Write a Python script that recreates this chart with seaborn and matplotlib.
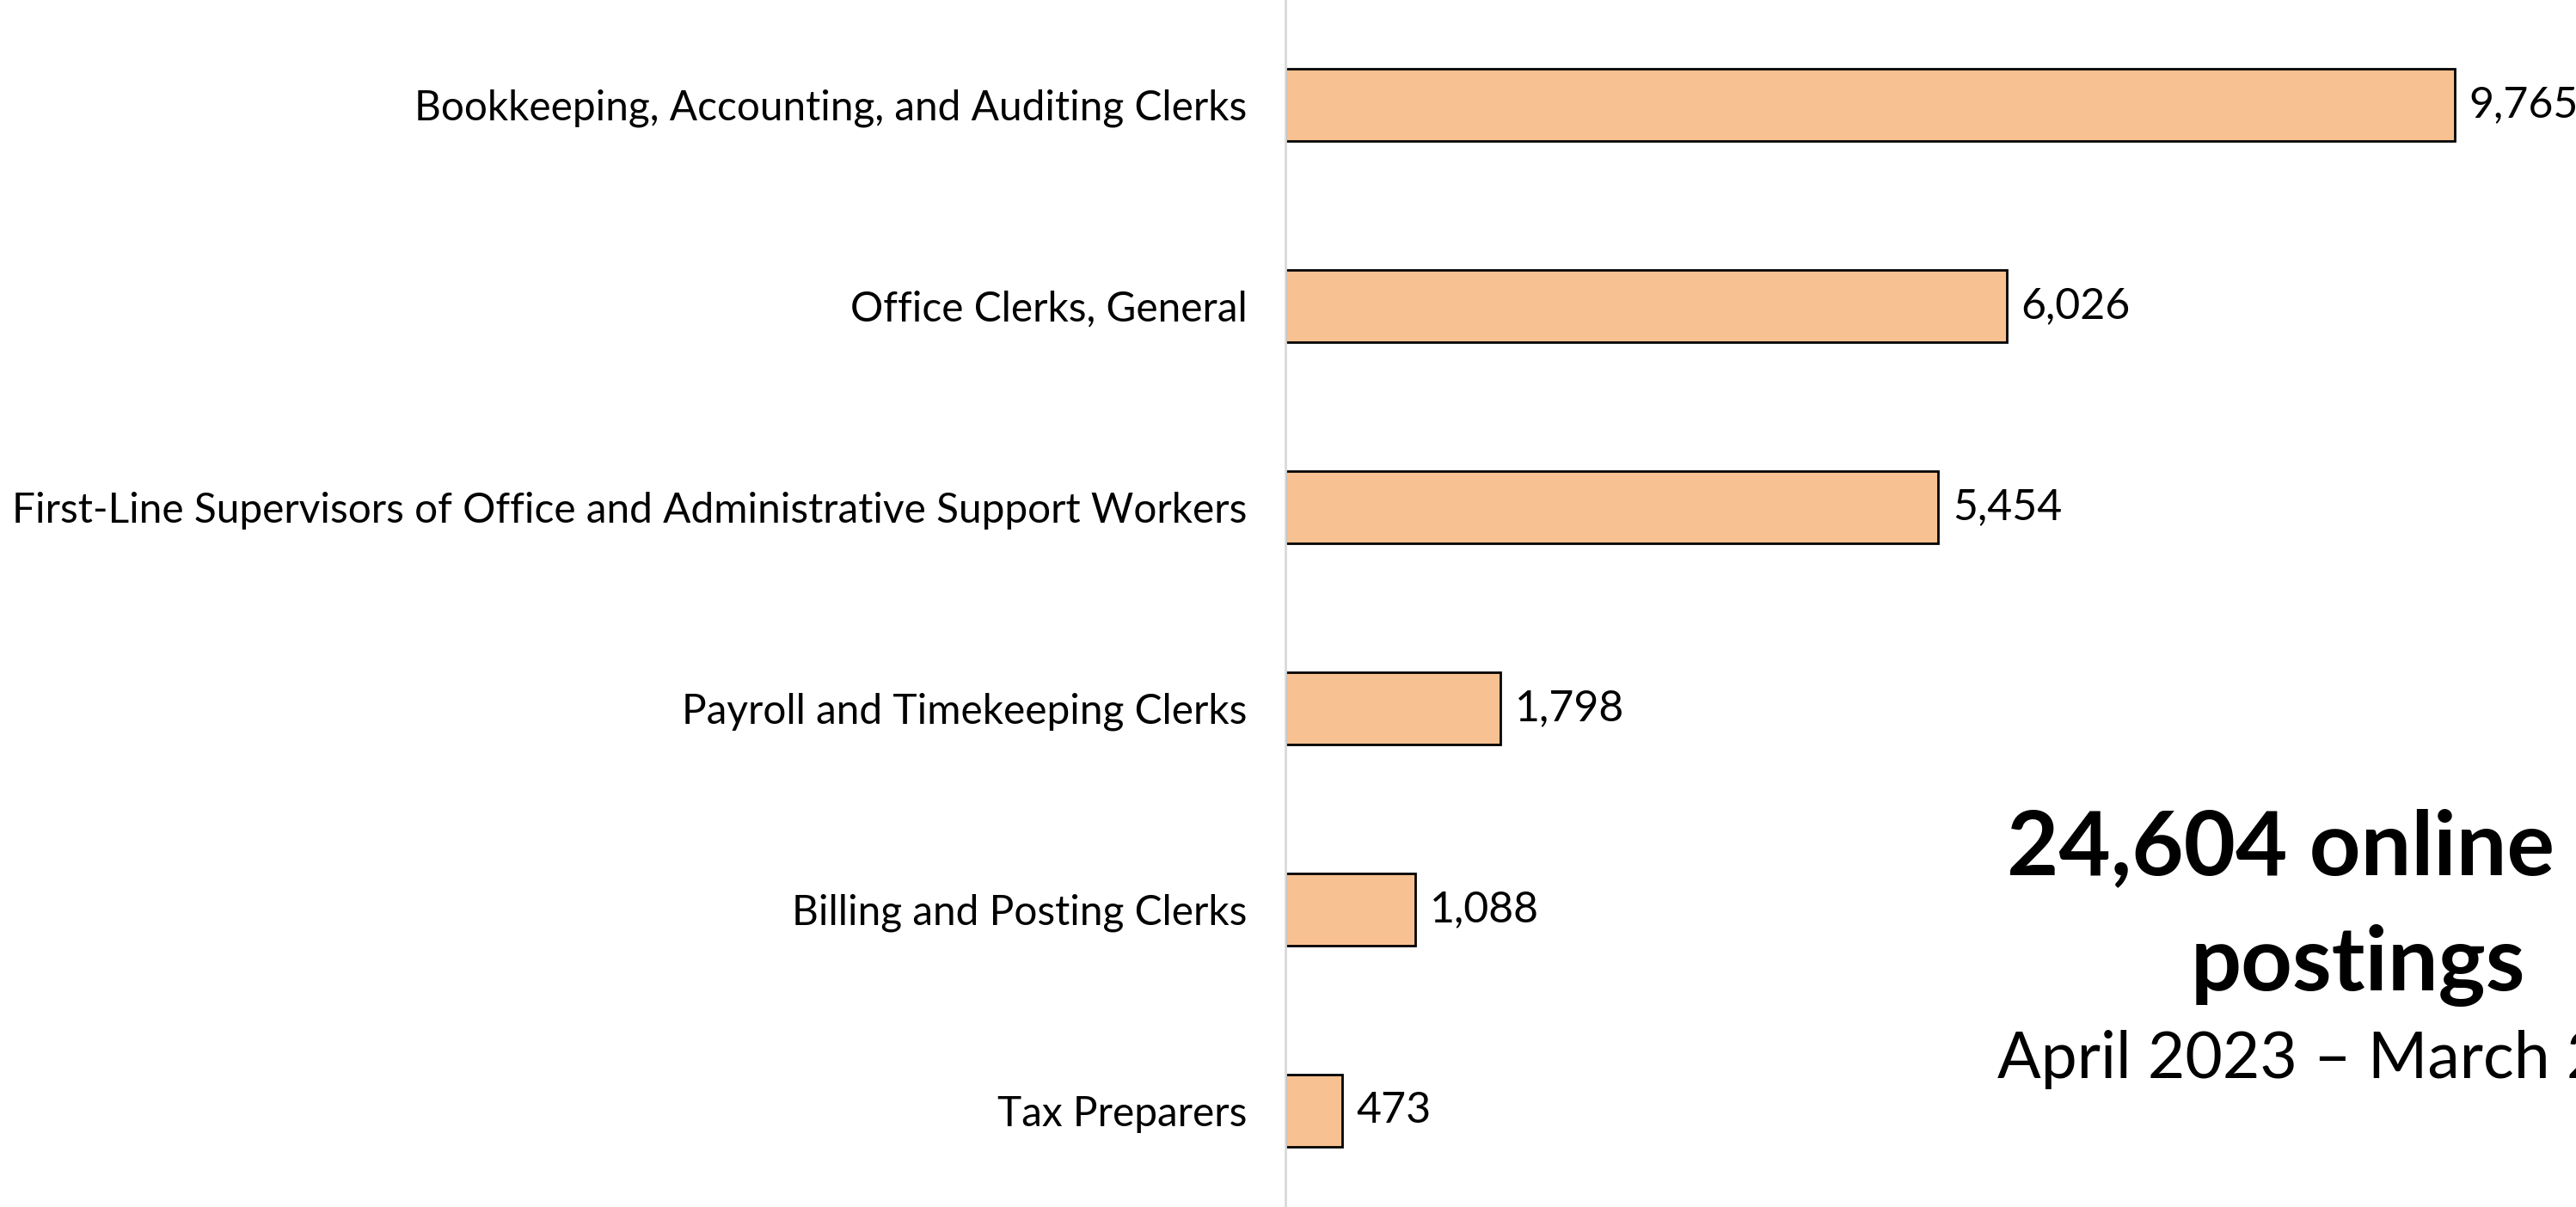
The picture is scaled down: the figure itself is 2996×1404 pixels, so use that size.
import matplotlib
matplotlib.use("Agg")
import matplotlib.pyplot as plt
import seaborn as sns
import pandas as pd

# data
occupations = [
    "Bookkeeping, Accounting, and Auditing Clerks",
    "Office Clerks, General",
    "First-Line Supervisors of Office and Administrative Support Workers",
    "Payroll and Timekeeping Clerks",
    "Billing and Posting Clerks",
    "Tax Preparers",
]
postings = [9765, 6026, 5454, 1798, 1088, 473]
total_postings = "24,604"
period = "April 2023 \u2013 March 2024"

df = pd.DataFrame({"occupation": occupations, "postings": postings})

sns.set_theme(style="white")
plt.rcParams["font.family"] = ["Lato", "DejaVu Sans"]

fig = plt.figure(figsize=(14.98, 7.02), dpi=200)
ax = fig.add_axes([0.499, 0.0, 0.501, 1.0])

sns.barplot(data=df, x="postings", y="occupation", orient="h",
            color="#F8C191", saturation=1, width=0.36,
            edgecolor="black", linewidth=1.0, ax=ax)

ax.set_xlim(0, 10780)
ax.set_ylim(5.48, -0.52)
ax.set_xlabel("")
ax.set_ylabel("")
ax.set_xticks([])
ax.tick_params(axis="y", length=0, pad=16, labelsize=17.2, labelcolor="black")
for side in ["top", "right", "bottom"]:
    ax.spines[side].set_visible(False)
ax.spines["left"].set_color("#D9D9D9")
ax.spines["left"].set_linewidth(1.0)

for container in ax.containers:
    ax.bar_label(container, labels=[f"{v:,}" for v in postings],
                 padding=6, fontsize=18, color="black")

# summary text on the right (the date line runs off the edge, as in the reference)
fig.text(0.779, 0.297, f"{total_postings} online", ha="left", va="center",
         fontsize=37.5, fontweight="bold", color="black")
fig.text(0.8505, 0.200, "postings", ha="left", va="center",
         fontsize=37.5, fontweight="bold", color="black")
fig.text(0.7755, 0.122, period, ha="left", va="center",
         fontsize=27, color="black")

fig.savefig("out.png", dpi=200)
